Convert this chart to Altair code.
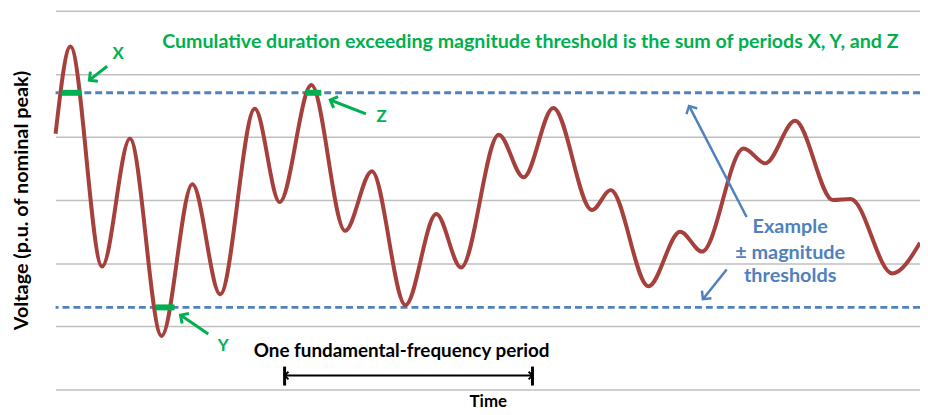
import math
import altair as alt
import pandas as pd

# ---- waveform (time in ms, voltage in p.u. of nominal peak) ----
time_ms = [0.0, 1.0, 3.13, 5.0, 7.13, 9.2, 11.07, 13.4, 15.07, 17.2, 19.47, 21.27,
           23.53, 25.6, 27.27, 29.8, 31.47, 33.47, 36.07, 37.33, 39.87, 42.0, 43.47,
           46.27, 47.73, 49.73, 52.27, 53.47, 56.27, 58.13]
voltage_pu = [0.526, 1.217, -0.526, 0.487, -1.076, 0.126, -0.746, 0.723, -0.016, 0.911,
              -0.243, 0.228, -0.832, -0.11, -0.534, 0.518, 0.181, 0.730, -0.079, 0.079,
              -0.683, -0.251, -0.408, 0.408, 0.291, 0.628, 0.0, 0.008, -0.581, -0.338]

grid_values = [-1.5, -1.0, -0.5, 0.0, 0.5, 1.0, 1.5]
thresholds = [0.85, -0.85]

# exceedance periods
period_names = ["X", "Y", "Z"]
period_start = [0.4, 6.73, 16.8]
period_end = [1.73, 8.0, 17.87]
period_level = [0.85, -0.85, 0.85]

# green annotation arrows (tail -> tip) and labels
g_tail_t = [3.47, 10.27, 20.87]
g_tail_v = [1.06, -1.06, 0.683]
g_tip_t = [2.27, 8.4, 18.47]
g_tip_v = [0.95, -0.911, 0.793]
g_label_t = [4.2, 11.27, 21.93]
g_label_v = [1.154, -1.154, 0.66]

# blue annotation arrows
b_tail_t = [46.47, 45.13]
b_tail_v = [-0.134, -0.55]
b_tip_t = [42.6, 43.53]
b_tip_v = [0.746, -0.785]
b_lines = ["Example", "± magnitude", "thresholds"]
b_line_t = [49.4, 49.4, 49.4]
b_line_v = [-0.212, -0.416, -0.605]

headline = "Cumulative duration exceeding  magnitude threshold is the sum of periods X, Y, and Z"
headline_t, headline_v = 31.93, 1.256

period_label = "One fundamental-frequency period"
period_label_t, period_label_v = 23.27, -1.194
bracket_t = [15.4, 32.07]
bracket_v = -1.39
bracket_top, bracket_bot = -1.319, -1.469

T_MAX = 58.13
W, H = 872, 382
PX_T = W / T_MAX
PX_V = H / 3.0

GREEN = "#00B050"
BLUE = "#4F81BD"
RED = "#A5403D"
FONT = "Lato"

xs = alt.Scale(domain=[0, T_MAX], nice=False, zero=False)
ys = alt.Scale(domain=[-1.5, 1.5], nice=False, zero=False)
x_axis = alt.Axis(title="Time", labels=False, ticks=False, domain=False, grid=False,
                  titlePadding=4, titleFontSize=17)
y_axis = alt.Axis(title="Voltage (p.u. of nominal peak)", labels=False, ticks=False, domain=False,
                  grid=True, values=grid_values, titlePadding=24, titleFontSize=20)


def X(field="t"):
    return alt.X(f"{field}:Q", scale=xs, axis=x_axis)


def Y(field="v"):
    return alt.Y(f"{field}:Q", scale=ys, axis=y_axis)


def angle(t0, v0, t1, v1):
    dx = (t1 - t0) * PX_T
    dy = -(v1 - v0) * PX_V
    return math.degrees(math.atan2(dy, dx)) % 360


wave = pd.DataFrame({"t": time_ms, "v": voltage_pu})
thr = pd.DataFrame({"v": thresholds})
per = pd.DataFrame({"name": period_names, "t": period_start, "t2": period_end, "v": period_level})
garr = pd.DataFrame({"t": g_tail_t, "v": g_tail_v, "t2": g_tip_t, "v2": g_tip_v,
                     "a": [angle(a, b, c, d) for a, b, c, d in zip(g_tail_t, g_tail_v, g_tip_t, g_tip_v)]})
glab = pd.DataFrame({"t": g_label_t, "v": g_label_v, "name": period_names})
barr = pd.DataFrame({"t": b_tail_t, "v": b_tail_v, "t2": b_tip_t, "v2": b_tip_v,
                     "a": [angle(a, b, c, d) for a, b, c, d in zip(b_tail_t, b_tail_v, b_tip_t, b_tip_v)]})
blab = pd.DataFrame({"t": b_line_t, "v": b_line_v, "txt": b_lines})
head = pd.DataFrame({"t": [headline_t], "v": [headline_v], "txt": [headline]})
plab = pd.DataFrame({"t": [period_label_t], "v": [period_label_v], "txt": [period_label]})
brk = pd.DataFrame({"t": [bracket_t[0]], "t2": [bracket_t[1]], "v": [bracket_v]})
brk_ends = pd.DataFrame({"t": bracket_t, "v": [bracket_top] * 2, "v2": [bracket_bot] * 2})
brk_heads = pd.DataFrame({"t": bracket_t, "v": [bracket_v] * 2, "a": [180, 0]})

CHEVRON = "M -1 -1 L 0 0 L -1 1"

curve = alt.Chart(wave).mark_line(color=RED, strokeWidth=4, interpolate="monotone").encode(x=X(), y=Y())

thr_lines = alt.Chart(thr).mark_rule(color=BLUE, strokeWidth=3, strokeDash=[7, 4]).encode(y=Y())

periods = alt.Chart(per).mark_rule(color=GREEN, strokeWidth=6).encode(x=X(), x2="t2:Q", y=Y())

g_lines = alt.Chart(garr).mark_rule(color=GREEN, strokeWidth=3).encode(x=X(), y=Y(), x2="t2:Q", y2="v2:Q")
g_heads = alt.Chart(garr).mark_point(shape=CHEVRON, filled=False, color=GREEN, strokeWidth=3,
                                     size=150, opacity=1).encode(x=X("t2"), y=Y("v2"), angle=alt.Angle("a:Q", scale=None))
g_text = alt.Chart(glab).mark_text(color=GREEN, font=FONT, fontWeight="bold", fontSize=17).encode(
    x=X(), y=Y(), text="name:N")

b_lines_ch = alt.Chart(barr).mark_rule(color=BLUE, strokeWidth=2.5).encode(x=X(), y=Y(), x2="t2:Q", y2="v2:Q")
b_heads = alt.Chart(barr).mark_point(shape=CHEVRON, filled=False, color=BLUE, strokeWidth=2.5,
                                     size=150, opacity=1).encode(x=X("t2"), y=Y("v2"), angle=alt.Angle("a:Q", scale=None))
b_text = alt.Chart(blab).mark_text(color=BLUE, font=FONT, fontWeight="bold", fontSize=20).encode(
    x=X(), y=Y(), text="txt:N")

head_text = alt.Chart(head).mark_text(color=GREEN, font=FONT, fontWeight="bold", fontSize=19.8).encode(
    x=X(), y=Y(), text="txt:N")
per_text = alt.Chart(plab).mark_text(color="black", font=FONT, fontWeight="bold", fontSize=19).encode(
    x=X(), y=Y(), text="txt:N")

brk_line = alt.Chart(brk).mark_rule(color="black", strokeWidth=2).encode(x=X(), x2="t2:Q", y=Y())
brk_end = alt.Chart(brk_ends).mark_rule(color="black", strokeWidth=3).encode(x=X(), y=Y(), y2="v2:Q")
brk_head = alt.Chart(brk_heads).mark_point(shape=CHEVRON, filled=False, color="black", strokeWidth=2,
                                           size=60, opacity=1).encode(x=X(), y=Y(), angle=alt.Angle("a:Q", scale=None))

chart = alt.layer(
    thr_lines, curve, periods, g_lines, g_heads, g_text, b_lines_ch, b_heads, b_text,
    head_text, per_text, brk_line, brk_end, brk_head,
).properties(
    width=W, height=H,
    autosize=alt.AutoSizeParams(type="none"),
    padding={"left": 48, "top": 1, "right": 0, "bottom": 23},
).configure_view(stroke=None).configure_axis(
    gridColor="#BFBFBF", gridWidth=1.5, titleFont=FONT, titleFontWeight="bold",
    titleColor="black",
)

chart.save("out.html", embed_options={"renderer": "svg", "actions": False})
